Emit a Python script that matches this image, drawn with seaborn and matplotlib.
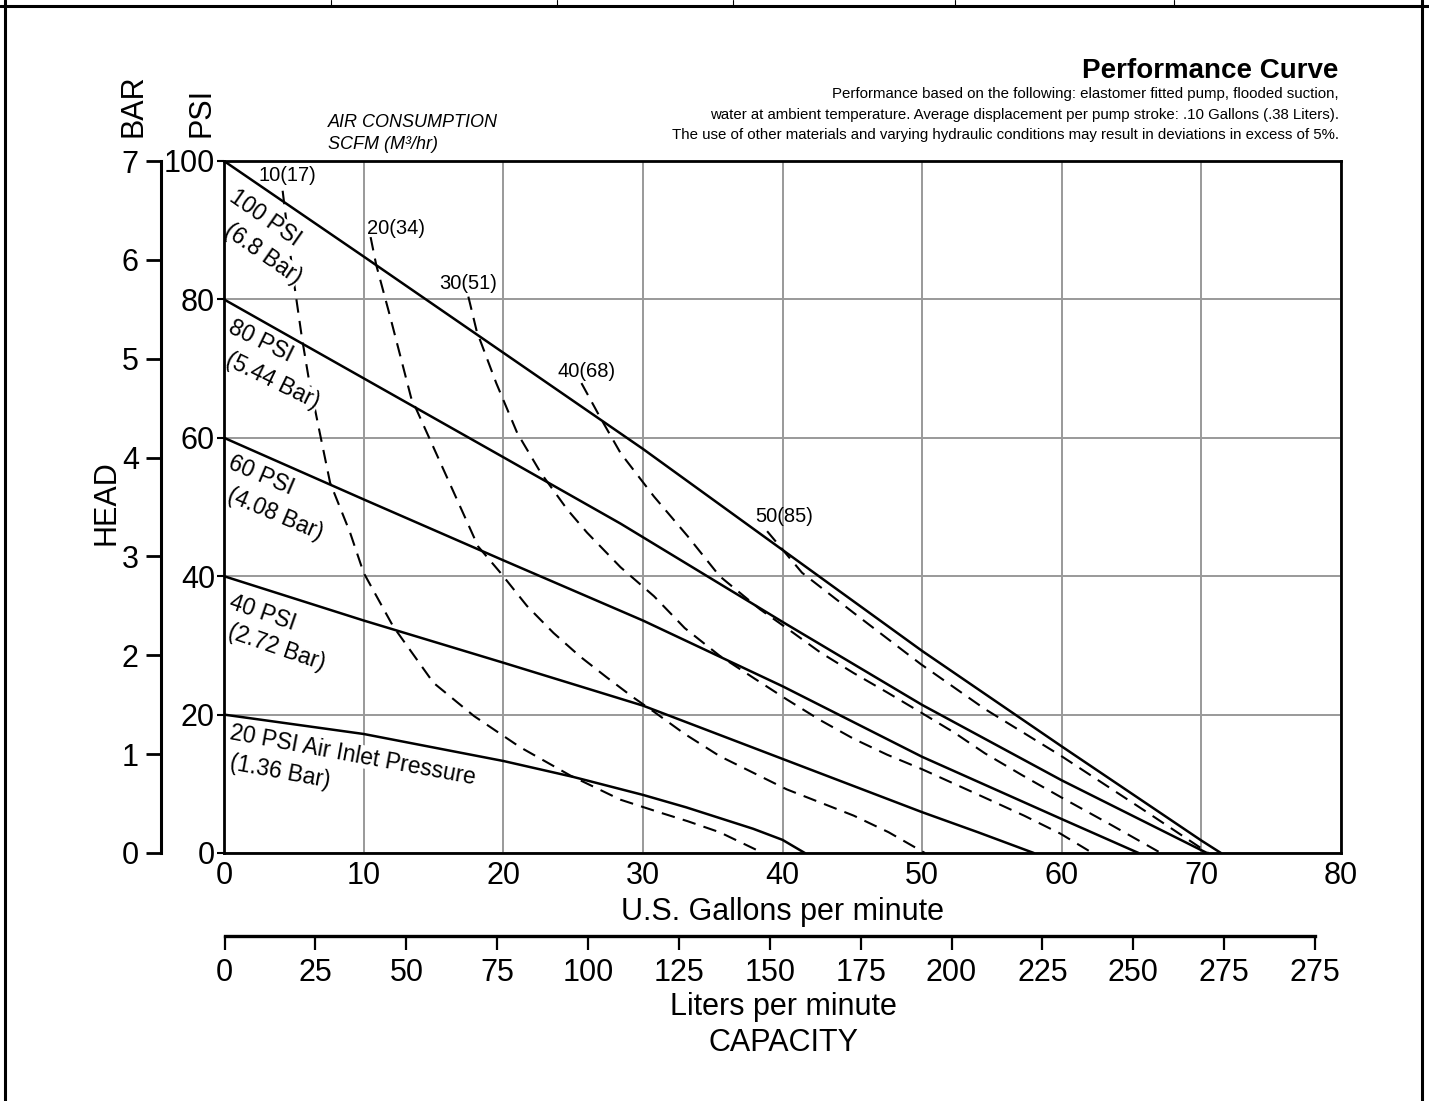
"""
Pump performance curve: head (psi / bar) vs capacity (gpm / lpm)
"""
import numpy as np
import pandas as pd
import matplotlib
matplotlib.use("Agg")
import matplotlib.pyplot as plt
import seaborn as sns
from matplotlib.lines import Line2D

# ============ data (x = US gpm, y = psi) ============
# solid curves: air inlet pressure
psi100_x = [0, 10, 20, 30, 40, 50, 60, 70, 71.4]
psi100_y = [100, 86.2, 72.3, 58.4, 43.8, 29.2, 15.4, 1.8, 0]
psi80_x = [0, 10, 20, 28.4, 40, 50, 60, 70.4]
psi80_y = [80, 68.6, 57.2, 47.6, 33.4, 21.4, 10.5, 0]
psi60_x = [0, 10, 20, 30, 40, 50, 60, 65.5]
psi60_y = [60, 51.1, 42.3, 33.6, 24.1, 13.9, 4.9, 0]
psi40_x = [0, 10, 20, 30, 40, 50, 54, 58]
psi40_y = [40, 33.6, 27.5, 21.3, 13.6, 5.9, 3.0, 0]
psi20_x = [0, 10, 20, 25, 30, 33.1, 37.9, 40, 41.6]
psi20_y = [20, 17.2, 13.3, 11.0, 8.4, 6.6, 3.5, 1.9, 0]

# dashed curves: air consumption
air10_x = [4.2, 4.6, 5.0, 5.57, 6.04, 6.76, 7.6, 9.03, 10.0, 12.1, 15.0, 17.9,
           21.2, 24.8, 28.4, 31.3, 33.2, 35.5, 38.6]
air10_y = [95.7, 89.0, 82.6, 74.6, 68.9, 61.7, 53.5, 46.3, 40.5, 32.8, 24.6, 19.8,
           15.3, 11.2, 7.7, 5.8, 4.6, 3.0, 0]
air20_x = [10.5, 10.9, 11.9, 13.4, 15.9, 18.2, 19.8, 21.7, 23.6, 25.5, 27.4, 29.3,
           30.8, 33.0, 35.5, 38.0, 40.3, 42.7, 45.1, 47.6, 50.2]
air20_y = [89.0, 85.0, 77.5, 65.8, 54.6, 44.3, 40.5, 35.7, 31.8, 28.4, 25.4, 22.5,
           20.4, 17.2, 14.0, 11.5, 9.2, 7.3, 5.4, 3.0, 0]
air30_x = [17.5, 18.1, 19.5, 21.0, 22.7, 24.6, 26.0, 28.4, 30.8, 33.0, 35.5, 38.0,
           40.3, 42.7, 45.1, 47.5, 50.0, 52.3, 54.7, 57.3, 59.9, 62.2]
air30_y = [80.4, 75.4, 67.9, 60.7, 54.9, 49.6, 46.3, 41.3, 37.1, 32.5, 28.5, 25.2,
           22.2, 19.2, 16.5, 14.2, 12.1, 10.0, 7.8, 5.4, 2.8, 0]
air40_x = [25.6, 26.9, 28.4, 30.8, 33.2, 35.5, 38.4, 40.3, 42.7, 45.1, 47.5, 50.0,
           52.3, 54.5, 57.2, 60.0, 63.5, 67.1]
air40_y = [67.9, 63.1, 57.8, 51.5, 45.8, 40.0, 35.2, 32.5, 29.0, 26.0, 23.2, 20.2,
           17.4, 14.4, 11.2, 8.0, 4.1, 0]
air50_x = [38.9, 41.4, 45.1, 49.9, 54.5, 59.9, 66.1, 70.5]
air50_y = [46.5, 40.5, 34.7, 27.3, 20.8, 14.1, 5.9, 0]

pressure_labels = [("100 PSI", "(6.8 Bar)"), ("80 PSI", "(5.44 Bar)"),
                   ("60 PSI", "(4.08 Bar)"), ("40 PSI", "(2.72 Bar)"),
                   ("20 PSI Air Inlet Pressure", "(1.36 Bar)")]
air_labels = ["10(17)", "20(34)", "30(51)", "40(68)", "50(85)"]

gpm_ticks = [0, 10, 20, 30, 40, 50, 60, 70, 80]
psi_ticks = [0, 20, 40, 60, 80, 100]
bar_ticks = [0, 1, 2, 3, 4, 5, 6, 7]
lpm_ticks = [0, 25, 50, 75, 100, 125, 150, 175, 200, 225, 250, 275, 300]
lpm_labels = ["0", "25", "50", "75", "100", "125", "150", "175", "200", "225",
              "250", "275", "275"]

subtitle = ["Performance based on the following: elastomer fitted pump, flooded suction,",
            "water at ambient temperature. Average displacement per pump stroke: .10 Gallons (.38 Liters).",
            "The use of other materials and varying hydraulic conditions may result in deviations in excess of 5%."]

# ============ style ============
sns.set_theme(style="white", rc={"text.color": "black", "axes.labelcolor": "black",
                                 "xtick.color": "black", "ytick.color": "black",
                                 "axes.edgecolor": "black"})
plt.rcParams['font.family'] = ['Liberation Sans', 'DejaVu Sans']
plt.rcParams['axes.unicode_minus'] = False

W, H = 1429, 1101
fig = plt.figure(figsize=(W / 100, H / 100), dpi=100)


def fx(px):
    return px / W


def fy(py):
    return 1 - py / H


# main axes: x 0..80 at px 224..1341, y 0..100 at px 853..161
ax = fig.add_axes([fx(224), fy(853), (1341 - 224) / W, (853 - 161) / H])


def draw_curve(xs, ys, dashed=False):
    df = pd.DataFrame({"gpm": xs, "psi": ys})
    if dashed:
        sns.lineplot(data=df, x="gpm", y="psi", ax=ax, sort=False, estimator=None,
                     color="black", lw=1.5, linestyle=(0, (6.5, 4.0)), zorder=2)
    else:
        sns.lineplot(data=df, x="gpm", y="psi", ax=ax, sort=False, estimator=None,
                     color="black", lw=1.8, zorder=4)


for xs, ys in [(air10_x, air10_y), (air20_x, air20_y), (air30_x, air30_y),
               (air40_x, air40_y), (air50_x, air50_y)]:
    draw_curve(xs, ys, dashed=True)
for xs, ys in [(psi100_x, psi100_y), (psi80_x, psi80_y), (psi60_x, psi60_y),
               (psi40_x, psi40_y), (psi20_x, psi20_y)]:
    draw_curve(xs, ys)

ax.set_xlim(0, 80)
ax.set_ylim(0, 100)
ax.set_xticks(gpm_ticks)
ax.set_yticks(psi_ticks)
ax.set_xlabel("")
ax.set_ylabel("")
ax.grid(True, color="#999999", lw=1.4)
ax.set_axisbelow(True)
for s in ax.spines.values():
    s.set_linewidth(2.0)
    s.set_color("black")
    s.set_zorder(6)
ax.tick_params(axis="x", bottom=True, length=0, pad=6, labelsize=22)
ax.tick_params(axis="y", left=True, direction="out", length=5, width=1.5, pad=1.5,
               labelsize=22)

# pressure labels along the solid curves, one text per line (white box hides dashes)
label_pos = [((1.0, 96.5), (0.64, 91.6), -35), ((0.81, 77.6), (0.61, 72.9), -26),
             ((0.75, 58.1), (0.61, 53.4), -23), ((0.73, 37.9), (0.61, 33.7), -19),
             ((0.61, 19.1), (0.57, 14.7), -10.5)]
for (l1, l2), (p1, p2, r) in zip(pressure_labels, label_pos):
    for txt, (x, y) in [(l1, p1), (l2, p2)]:
        ax.text(x, y, txt, rotation=r, rotation_mode="anchor", ha="left", va="top",
                fontsize=16.5, zorder=3,
                bbox=dict(facecolor="white", edgecolor="none", pad=0))

# air consumption labels at the top of each dashed curve
air_pos = [(4.55, 97.9), (12.3, 90.3), (17.45, 82.3), (26.0, 69.6), (40.1, 48.6)]
for txt, (x, y) in zip(air_labels, air_pos):
    ax.text(x, y, txt, ha="center", va="center", fontsize=14.5, zorder=5)

# BAR scale to the left of the PSI scale
sec = ax.secondary_yaxis(-(224 - 161) / (1341 - 224),
                         functions=(lambda p: p * 0.07, lambda b: b / 0.07))
sec.set_yticks(bar_ticks)
sec.tick_params(direction="out", length=11, width=2, pad=5, labelsize=22)
sec.spines["left"].set_linewidth(2.2)

# liters per minute scale
axl = fig.add_axes([fx(224.6), fy(936), (1315 - 224.6) / W, 0.0005])
axl.set_xlim(lpm_ticks[0], lpm_ticks[-1])
axl.set_xticks(lpm_ticks)
axl.set_xticklabels(lpm_labels)
axl.yaxis.set_visible(False)
for s in ["top", "left", "right"]:
    axl.spines[s].set_visible(False)
axl.spines["bottom"].set_linewidth(2.4)
axl.patch.set_visible(False)
axl.tick_params(axis="x", bottom=True, direction="out", length=10, width=1.6, pad=6,
                labelsize=22)

# axis titles
fig.text(fx(782.5), fy(920), "U.S. Gallons per minute", ha="center", va="baseline",
         fontsize=22)
fig.text(fx(783), fy(1015), "Liters per minute", ha="center", va="baseline", fontsize=22)
fig.text(fx(784), fy(1051), "CAPACITY", ha="center", va="baseline", fontsize=22)
fig.text(fx(106.5), fy(503), "HEAD", rotation=90, ha="center", va="center", fontsize=22)
fig.text(fx(133), fy(137), "BAR", rotation=90, ha="center", va="bottom", fontsize=22)
fig.text(fx(201), fy(137), "PSI", rotation=90, ha="center", va="bottom", fontsize=22)
fig.text(fx(328), fy(127), "AIR CONSUMPTION", ha="left", va="baseline", fontsize=13,
         style="italic")
fig.text(fx(328), fy(149), "SCFM (M³/hr)", ha="left", va="baseline", fontsize=13,
         style="italic")

# title block
fig.text(fx(1338), fy(78), "Performance Curve", ha="right", va="baseline",
         fontsize=20, weight="bold")
for i, line in enumerate(subtitle):
    fig.text(fx(1339), fy(98 + 20.5 * i), line, ha="right", va="baseline", fontsize=10.8)

# page frame
frame = [([5, 5], [0, H]), ([1422, 1422], [0, H]), ([0, W], [5.5, 5.5])]
for xs, ys in frame:
    fig.add_artist(Line2D([fx(v) for v in xs], [fy(v) for v in ys], color="black", lw=2.2))
for xd in [331, 557, 733, 955, 1174]:
    fig.add_artist(Line2D([fx(xd), fx(xd)], [fy(0), fy(5)], color="black", lw=0.8))

fig.savefig("out.png", dpi=100)
